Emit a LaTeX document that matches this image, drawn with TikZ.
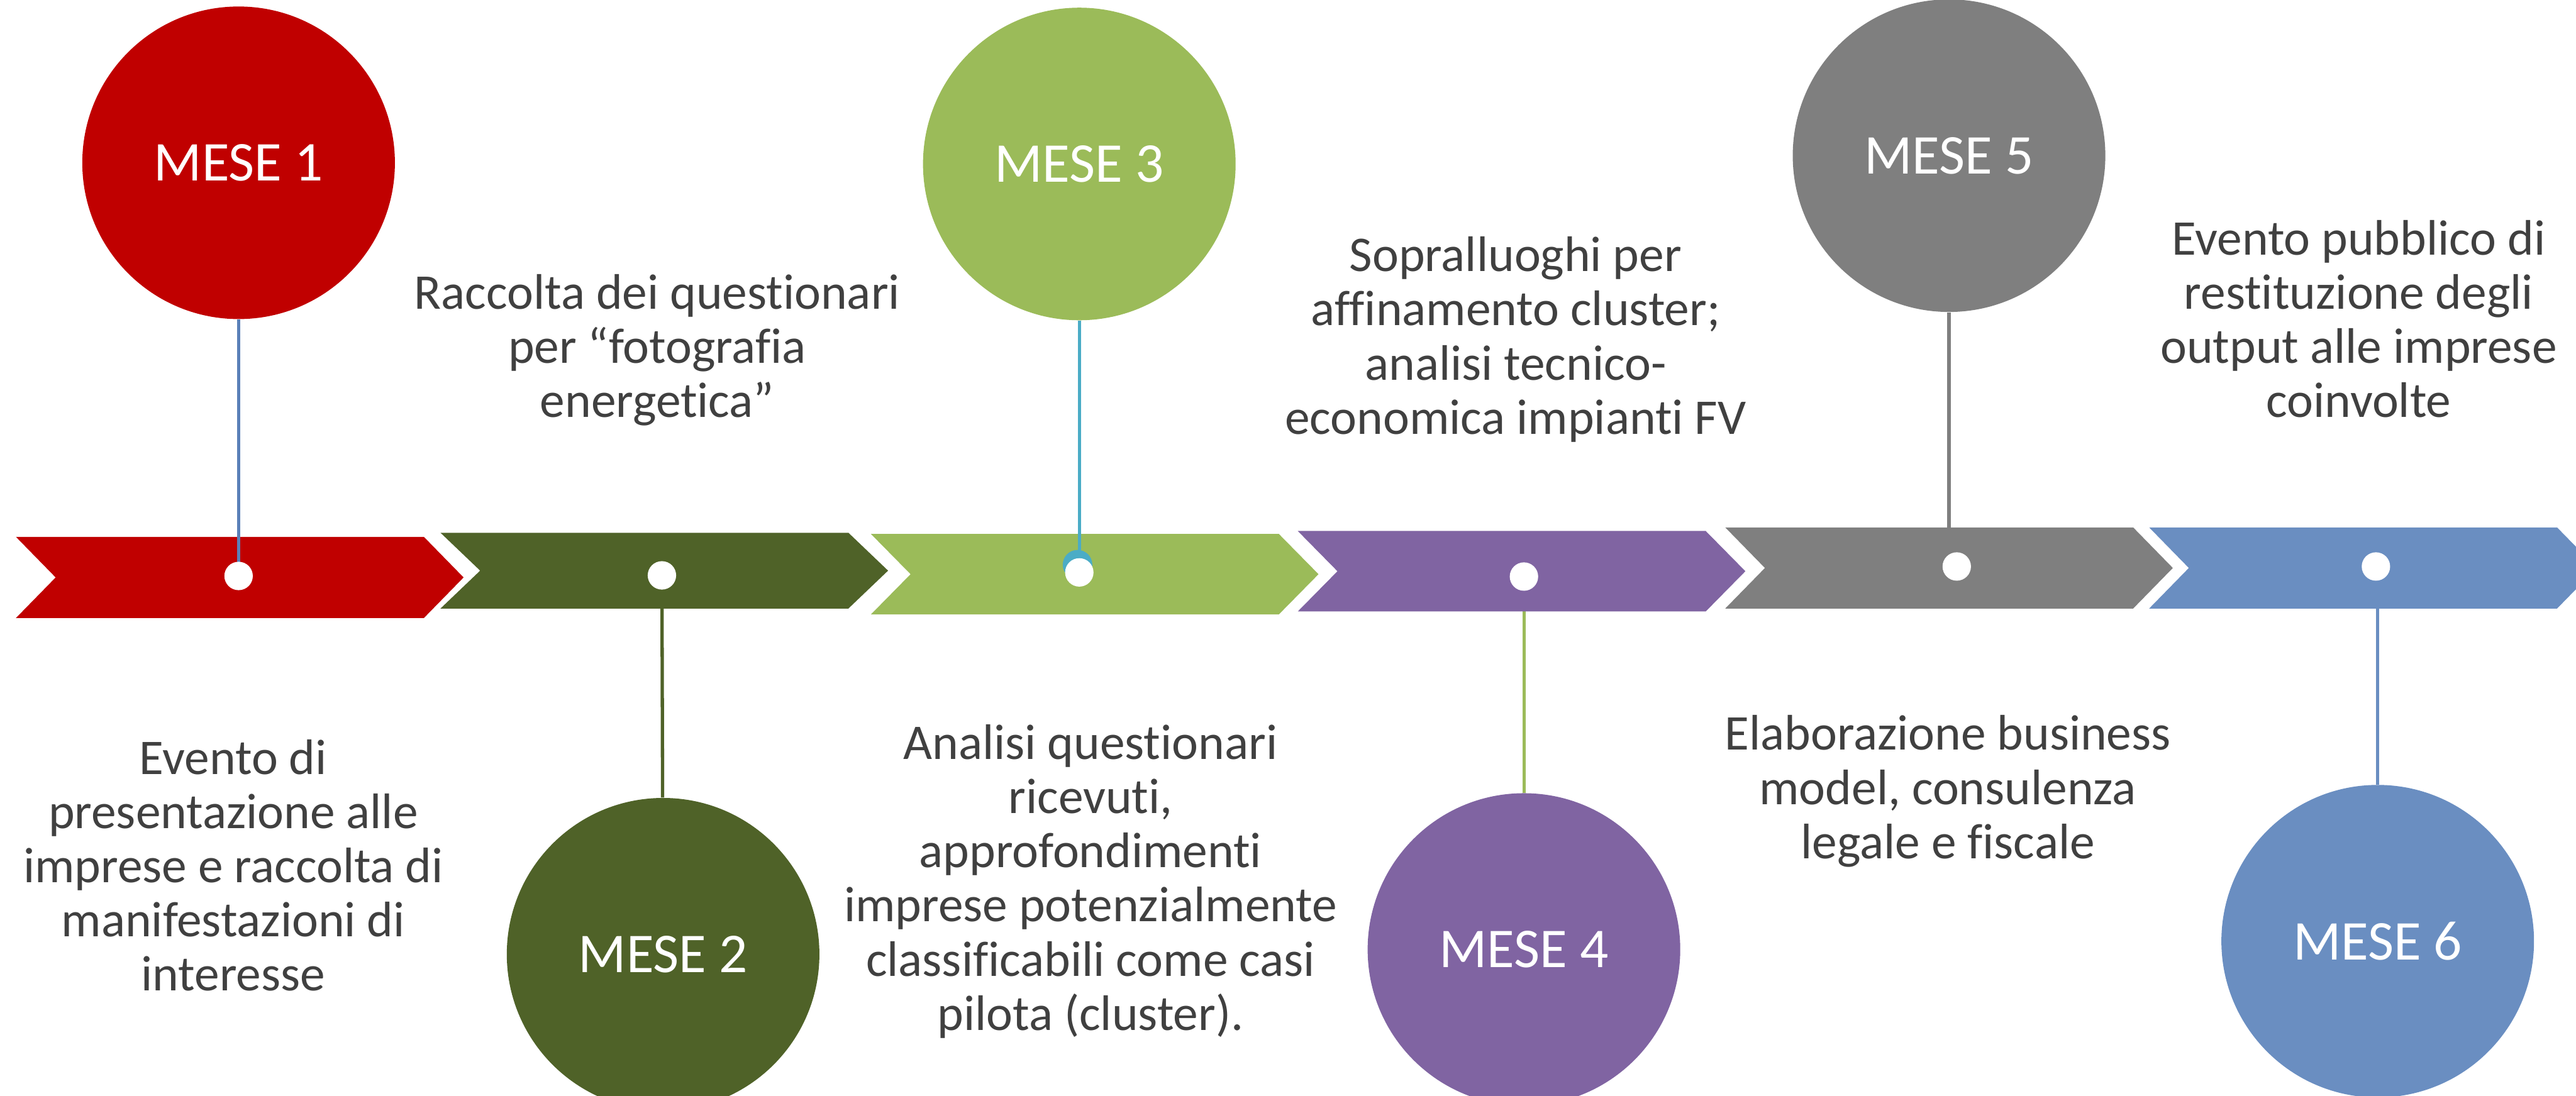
\documentclass[tikz,border=0pt]{standalone}
\usepackage{fontspec}
\setmainfont[Ligatures=NoCommon]{Carlito}
\definecolor{meseA}{HTML}{C00000}
\definecolor{meseB}{HTML}{4F6228}
\definecolor{meseC}{HTML}{9BBB59}
\definecolor{meseD}{HTML}{8064A2}
\definecolor{meseE}{HTML}{7F7F7F}
\definecolor{meseF}{HTML}{6A8EC1}
\definecolor{stemA}{HTML}{5A80B8}
\definecolor{stemC}{HTML}{4BACC6}
\definecolor{testo}{HTML}{404040}

\begin{document}
\begin{tikzpicture}[x=1cm,y=-1cm,
  mese/.style={circle,minimum size=5.28cm,inner sep=0pt,text=white,font=\fontsize{27}{30}\selectfont},
  descr/.style={align=center,text=testo,font=\fontsize{24}{26}\selectfont,anchor=base,inner sep=0pt},
  stem/.style={line width=1.6pt},
  dot/.style={circle,fill=white,minimum size=0.48cm,inner sep=0pt}]
 \useasboundingbox (0,0) rectangle (43.51,18.51);
 \clip (0,0) rectangle (43.51,18.51);

 \node[mese,fill=meseA] (m1) at (4.03,2.75) {MESE 1};
 \node[mese,fill=meseB] (m2) at (11.20,16.12) {MESE 2};
 \node[mese,fill=meseC] (m3) at (18.23,2.77) {MESE 3};
 \node[mese,fill=meseD] (m4) at (25.74,16.04) {MESE 4};
 \node[mese,fill=meseE] (m5) at (32.92,2.63) {MESE 5};
 \node[mese,fill=meseF] (m6) at (40.16,15.90) {MESE 6};

 \coordinate (d1) at (4.03,9.73);
 \coordinate (d2) at (11.18,9.72);
 \coordinate (d3) at (18.23,9.67);
 \coordinate (d4) at (25.74,9.74);
 \coordinate (d5) at (33.05,9.57);
 \coordinate (d6) at (40.13,9.57);

 \draw[stem,meseB] (d2) -- (m2);
 \draw[stem,meseC] (d4) -- (m4);
 \draw[stem,meseE] (m5) -- (m5.south |- d5);
 \draw[stem,meseF] (m6) -- (m6.north |- d6);

 \foreach \x/\t/\b/\c in {0.27/9.07/10.44/meseA,7.44/9.00/10.28/meseB,14.71/9.02/10.38/meseC,
   21.92/8.97/10.33/meseD,29.14/8.91/10.28/meseE,36.30/8.91/10.28/meseF}{%
   \fill[\c] (\x,\t) -- (\x+6.89,\t) -- ({\x+7.56},{(\t+\b)/2}) -- (\x+6.89,\b)
     -- (\x,\b) -- ({\x+0.67},{(\t+\b)/2}) -- cycle;
 }

 \draw[stem,stemA] (m1) -- (d1);
 \draw[stem,stemC] (m3) -- (d3);
 \fill[stemC] (d3) ++(-0.03,-0.13) circle[radius=0.25cm];
 \foreach \i in {1,...,6}{%
   \node[dot] (w\i) at (d\i) {};
 }

 \node[descr] (t1) at (3.94,16.74) {Evento di\\presentazione alle\\imprese e raccolta di\\manifestazioni di\\interesse};
 \node[descr] (t2) at (11.10,7.05) {Raccolta dei questionari\\per “fotografia\\energetica”};
 \node[descr] (t3) at (18.42,17.40) {Analisi questionari\\ricevuti,\\approfondimenti\\imprese potenzialmente\\classificabili come casi\\pilota (cluster).};
 \node[descr] (t4) at (25.60,7.33) {Sopralluoghi per\\affinamento cluster;\\analisi tecnico-\\economica impianti FV};
 \node[descr] (t5) at (32.90,14.50) {Elaborazione business\\model, consulenza\\legale e fiscale};
 \node[descr] (t6) at (39.84,7.05) {Evento pubblico di\\restituzione degli\\output alle imprese\\coinvolte};
\end{tikzpicture}
\end{document}
